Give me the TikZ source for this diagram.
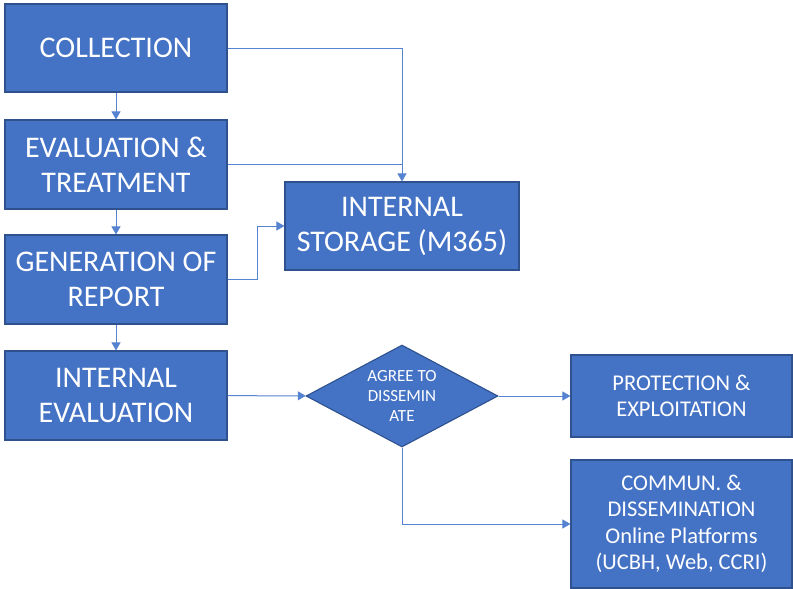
\documentclass[tikz,border=0pt]{standalone}
\usepackage{fontspec}
\setmainfont{Carlito}
\usetikzlibrary{shapes.geometric,arrows.meta}
\definecolor{boxfill}{HTML}{4472C4}
\definecolor{boxline}{HTML}{2F528F}
\definecolor{conn}{HTML}{5583D0}
\begin{document}
\begin{tikzpicture}[x=1pt,y=-1pt,
  box/.style={draw=boxline,line width=1.1pt,fill=boxfill,text=white,align=center,inner sep=0pt},
  bigbox/.style={box,minimum width=222pt,minimum height=89pt,font=\fontsize{30}{35}\selectfont},
  smallbox/.style={box,minimum width=221pt,font=\fontsize{22.5}{26.5}\selectfont},
  decide/.style={box,diamond,shape aspect=1.88,minimum width=192pt,minimum height=102pt,font=\fontsize{17}{20}\selectfont},
  conn/.style={draw=conn,line width=1pt},
  arr/.style={conn,-{Triangle[width=9pt,length=8pt]}}]
\useasboundingbox (0,0) rectangle (793,589);
\node[bigbox,minimum height=88pt] (col) at (116,48) {COLLECTION};
\node[bigbox] (eva) at (116,164.5) {EVALUATION \&\\TREATMENT};
\node[bigbox] (gen) at (116,279.5) {GENERATION OF\\REPORT};
\node[bigbox] (ie) at (116,395.5) {INTERNAL\\EVALUATION};
\node[bigbox,minimum width=234pt,minimum height=88pt] (sto) at (402,226) {INTERNAL\\STORAGE (M365)};
\node[decide] (dec) at (402,396) {AGREE TO\\DISSEMIN\\ATE};
\node[smallbox,minimum height=82pt] (pro) at (681.5,396) {PROTECTION \&\\EXPLOITATION};
\node[smallbox,minimum height=128pt] (com) at (681.5,524) {COMMUN. \&\\DISSEMINATION\\Online Platforms\\(UCBH, Web, CCRI)};
\draw[arr] (col.east) -| (sto.north);
\draw[conn] (eva.east) -- (eva.east -| sto.north);
\draw[arr] (gen.east) -- ++(30,0) |- (sto.west);
\draw[arr] (col) -- (eva);
\draw[arr] (eva) -- (gen);
\draw[arr] (gen) -- (ie);
\draw[arr] (ie) -- (dec);
\draw[arr] (dec) -- (pro);
\draw[arr] (dec.south) |- (com.west);
\end{tikzpicture}
\end{document}
